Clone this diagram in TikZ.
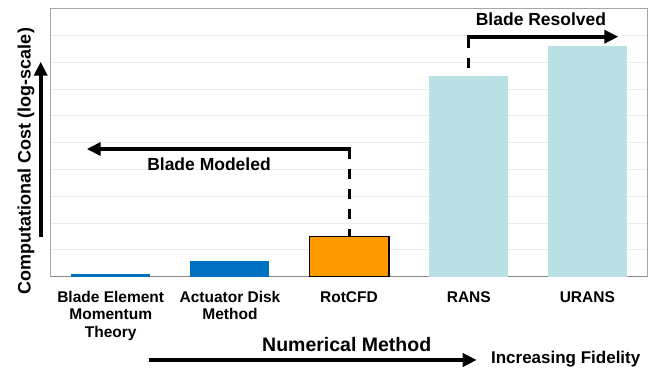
\documentclass[tikz,border=0pt]{standalone}
\usepackage{fontspec}
\setmainfont{Liberation Sans}
\usetikzlibrary{arrows.meta}

\definecolor{bemblue}{RGB}{0,112,192}
\definecolor{rotorange}{RGB}{255,153,0}
\definecolor{ransblue}{RGB}{185,224,228}
\definecolor{gridgray}{RGB}{236,236,236}
\definecolor{framegray}{RGB}{165,165,165}

\begin{document}
\begin{tikzpicture}[x=1pt,y=-1pt,
  bigarrow/.style={line width=4pt,-{Triangle[length=14pt,width=13pt]}},
  dashlink/.style={line width=3pt,dash pattern=on 10pt off 10pt},
  catlabel/.style={font=\fontsize{15.5}{17.2}\selectfont\bfseries,align=center,inner sep=0pt,anchor=base},
  notelabel/.style={font=\fontsize{17.5}{20}\selectfont\bfseries,inner sep=0pt,anchor=base},
  gridline/.style={draw=gridgray,line width=1pt}]

\useasboundingbox (0,0) rectangle (655,367);

% plot area: horizontal grid lines and frame
\foreach \k in {1,...,9}
  \draw[gridline] (50.7,{276.7-26.8*\k}) -- (647,{276.7-26.8*\k});
\draw[framegray,line width=1pt] (50.7,276.7) -- (50.7,8.7) -- (647,8.7) -- (647,276.7);
\draw[framegray!85!black,line width=1.2pt] (50.7,276.7) -- (647,276.7);

% bars
\fill[bemblue]   (71.0,276.7)  rectangle (150.3,274.0);
\fill[bemblue]   (189.7,276.7) rectangle (269.3,261.0);
\filldraw[fill=rotorange,draw=black,line width=1.4pt] (309.2,276.2) rectangle (388.8,236.3);
\fill[ransblue]  (429.3,276.7) rectangle (508.3,75.7);
\fill[ransblue]  (547.7,276.7) rectangle (627.0,45.7);

% anchor points of the two range arrows
\coordinate (rotTop)  at (349,236);
\coordinate (bmCorner) at (349,149);
\coordinate (bmTip)   at (86.7,149);
\coordinate (ransTop) at (468.3,68.3);
\coordinate (brCorner) at (468.3,36.7);
\coordinate (brTip)   at (618.3,36.7);

% blade modeled
\draw[dashlink] (bmCorner) -- (rotTop);
\draw[line width=4pt,-{Triangle[length=14pt,width=13pt]}] ([xshift=1.5pt]bmCorner) -- (bmTip);
\node[notelabel] (bmText) at (209,170) {Blade Modeled};

% blade resolved
\draw[dashlink] (ransTop) -- (brCorner);
\draw[line width=4pt,-{Triangle[length=14pt,width=13pt]}] ([xshift=-1.5pt]brCorner) -- (brTip);
\node[notelabel] (brText) at (541,25) {Blade Resolved};

% category labels (base anchor sits on the last line)
\node[catlabel] (lblBEM)   at (110.7,337.0) {Blade Element\\Momentum\\Theory};
\node[catlabel] (lblADM)   at (230,319.7)   {Actuator Disk\\Method};
\node[catlabel] (lblRot)   at (349,302.5)   {RotCFD};
\node[catlabel] (lblRANS)  at (468.8,302.5) {RANS};
\node[catlabel] (lblURANS) at (587.3,302.5) {URANS};

% vertical axis
\coordinate (yBot) at (40.7,236.5);
\coordinate (yTip) at (40.7,61.7);
\draw[bigarrow] (yBot) -- (yTip);
\node[font=\fontsize{18}{20}\selectfont\bfseries,inner sep=0pt,anchor=base,rotate=90] (yLabel) at (30.5,161) {Computational Cost (log-scale)};

% horizontal axis
\coordinate (xStart) at (149,360);
\coordinate (xTip) at (476.7,360);
\draw[bigarrow] (xStart) -- (xTip);
\node[font=\fontsize{19.5}{22}\selectfont\bfseries,inner sep=0pt,anchor=base] (xLabel) at (346.7,351.3) {Numerical Method};
\node[font=\fontsize{17}{20}\selectfont\bfseries,inner sep=0pt,anchor=base] (fidLabel) at (565.7,363) {Increasing Fidelity};

\end{tikzpicture}
\end{document}
